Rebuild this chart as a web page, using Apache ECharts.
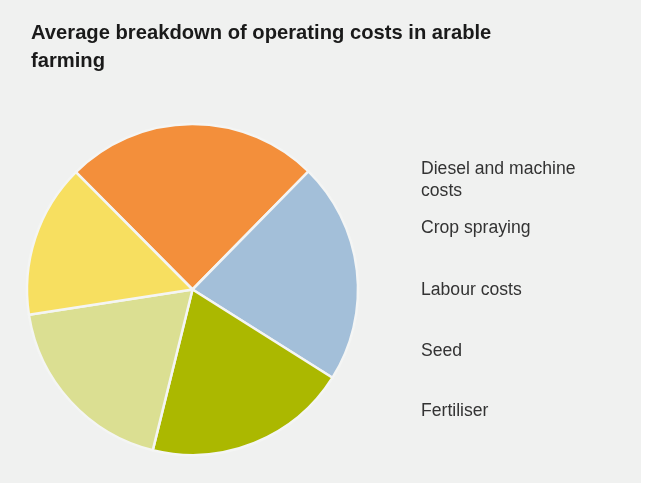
<!DOCTYPE html>
<html>
<head>
<meta charset="utf-8">
<script src="https://cdn.jsdelivr.net/npm/echarts@6/dist/echarts.min.js"></script>
<style>
  html, body { margin: 0; padding: 0; background: #ffffff; }
  #chart { width: 641px; height: 483px; background: #f0f1f0; }
</style>
</head>
<body>
<div id="chart"></div>
<script>
// Cost categories and their shares (%)
const categories = [
  "Diesel and machine costs",
  "Crop spraying",
  "Labour costs",
  "Seed",
  "Fertiliser",
];
const shares = [24.8, 21.6, 19.9, 18.7, 15.0];
const colors = ["#f38f3b", "#a3bfd9", "#abb800", "#dbdf92", "#f7df60"];

// legend rows (one legend per row, text only)
const legendTops = [153, 212, 274, 335, 395];

const chartDom = document.getElementById("chart");
const chart = echarts.init(chartDom);

const option = {
  animation: false,
  backgroundColor: "#f0f1f0",
  title: {
    text: "Average breakdown of operating costs in arable\nfarming",
    left: 26,
    top: 14,
    textStyle: {
      fontFamily: "Liberation Sans",
      fontSize: 20.2,
      fontWeight: "bold",
      color: "#1a1a1a",
      lineHeight: 28,
    },
  },
  legend: categories.map((name, i) => ({
    data: [name],
    left: 411,
    top: legendTops[i],
    orient: "vertical",
    icon: "none",
    itemWidth: 0,
    itemHeight: 10,
    selectedMode: false,
    formatter: (n) => (n === "Diesel and machine costs" ? "Diesel and machine\ncosts" : n),
    textStyle: {
      fontFamily: "Liberation Sans",
      fontSize: 17.6,
      color: "#333333",
      lineHeight: 22,
    },
  })),
  series: [
    {
      name: "Operating costs",
      type: "pie",
      center: [192.5, 289.5],
      radius: 165.5,
      startAngle: 134.8,
      clockwise: true,
      label: { show: false },
      labelLine: { show: false },
      itemStyle: {
        borderColor: "#f4f5f4",
        borderWidth: 2.5,
      },
      data: categories.map((name, i) => ({
        name: name,
        value: shares[i],
        itemStyle: { color: colors[i] },
      })),
    },
  ],
};

chart.setOption(option);
window.addEventListener("resize", () => chart.resize());
</script>
</body>
</html>
